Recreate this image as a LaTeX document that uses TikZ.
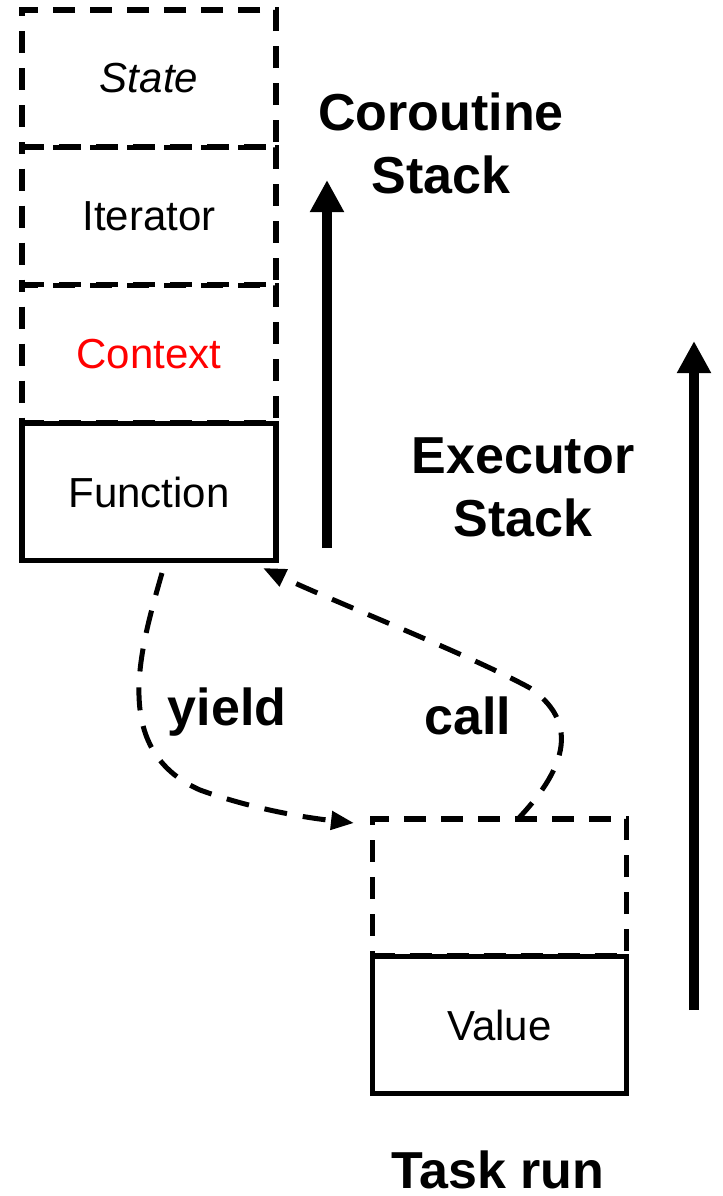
\documentclass[tikz,border=0pt]{standalone}
\usepackage{fontspec}
\setmainfont{Liberation Sans}
\usetikzlibrary{arrows.meta}
\begin{document}
\begin{tikzpicture}[x=0.5pt,y=-0.5pt,
        cell/.style={draw, line width=2.6pt, minimum width=127pt, minimum height=68.5pt, inner sep=0pt, font=\fontsize{21}{25}\selectfont},
        slot/.style={cell, dash pattern=on 11pt off 7.5pt},
        bigtext/.style={font=\fontsize{26}{31.5}\selectfont\bfseries, align=center},
        stackarrow/.style={line width=5pt, -{Triangle[length=16pt,width=16pt]}},
        hop/.style={line width=2.5pt, dash pattern=on 11.5pt off 8pt, -{Triangle[length=11.5pt,width=9pt]}}]
        \useasboundingbox (0,0) rectangle (723,1196);

        % coroutine stack
        \node[slot] (st) at (149,78.5) {\itshape State};
        \node[slot] (it) at (149,216) {Iterator};
        \node[slot, text=red] (ctx) at (149,354) {Context};
        \node[cell] (fn) at (149,492) {Function};

        % task run stack
        \node[slot] (top) at (499.5,887.5) {};
        \node[cell] (val) at (499.5,1025) {Value};

        \node[bigtext] (cs) at (441,143) {Coroutine\\Stack};
        \node[bigtext] (es) at (523,487) {Executor\\Stack};
        \node[bigtext, anchor=base] (tr) at (498,1188) {Task run};

        \coordinate (cs0) at (327,548);
        \coordinate (cs1) at (327,180);
        \coordinate (es0) at (694,1010);
        \coordinate (es1) at (694,341);
        \draw[stackarrow] (cs0) -- (cs1);
        \draw[stackarrow] (es0) -- (es1);

        \coordinate (y0) at (162,573);
        \coordinate (y1) at (354,823);
        \coordinate (c0) at (517,820);
        \coordinate (c1) at (263,568);
        \draw[hop] (y0) .. controls (140,650) and (110,750) .. (200,790)
            .. controls (250,808) and (300,817) .. (y1);
        \draw[hop] (c0) .. controls (555,780) and (588,728) .. (530,688)
            .. controls (470,655) and (330,600) .. (c1);

        \node[bigtext] (yl) at (227,712) {yield};
        \node[bigtext] (cl) at (468,716) {call};
    \end{tikzpicture}
\end{document}
